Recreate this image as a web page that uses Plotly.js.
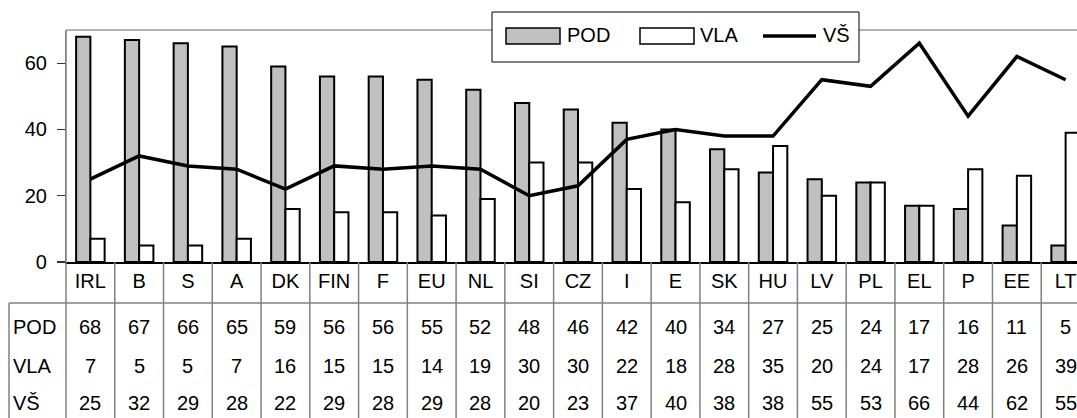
<!DOCTYPE html>
<html>
<head>
<meta charset="utf-8">
<script src="https://cdn.plot.ly/plotly-3.0.1.min.js"></script>
<style>html,body{margin:0;padding:0;overflow:hidden;background:#fff;}</style>
</head>
<body>
<div id="chart"></div>
<script>
const categories = ["IRL","B","S","A","DK","FIN","F","EU","NL","SI","CZ","I","E","SK","HU","LV","PL","EL","P","EE","LT"];
const podValues = [68,67,66,65,59,56,56,55,52,48,46,42,40,34,27,25,24,17,16,11,5];
const vlaValues = [7,5,5,7,16,15,15,14,19,30,30,22,18,28,35,20,24,17,28,26,39];
const vsValues  = [25,32,29,28,22,29,28,29,28,20,23,37,40,38,38,55,53,66,44,62,55];
const seriesNames = ["POD","VLA","VŠ"];
const yTicks = [0,20,40,60];

const FONT = "Liberation Sans, Arial, sans-serif";
const W = 1100, H = 418;
const ML = 66, MR = 10, MT = 30, MB = 156;
const PW = W - ML - MR, PH = H - MT - MB;
const px = x => (x - ML) / PW;          // pixel -> paper x
const py = y => (H - MB - y) / PH;      // pixel -> paper y

const traces = [
  {type:"bar", name:seriesNames[0], x:categories, y:podValues, showlegend:false,
   marker:{color:"#c0c0c0", line:{color:"#000", width:2}}, hoverinfo:"x+y"},
  {type:"bar", name:seriesNames[1], x:categories, y:vlaValues, showlegend:false,
   marker:{color:"#ffffff", line:{color:"#000", width:2}}, hoverinfo:"x+y"},
  {type:"scatter", mode:"lines", name:seriesNames[2], x:categories, y:vsValues, showlegend:false,
   line:{color:"#000", width:3.5}, hoverinfo:"x+y"}
];

const shapes = [];
const annotations = [];
const GRAY = "#808080";

// top border
shapes.push({type:"line", xref:"paper", yref:"paper", x0:0, x1:1, y0:1, y1:1, line:{color:"#999", width:1.5}});
// vertical dividers (table + category separators)
for (let i = 0; i <= categories.length; i++) {
  shapes.push({type:"line", xref:"paper", yref:"paper", x0:i/categories.length, x1:i/categories.length,
    y0: i === 0 ? 1 : 0, y1: py(H), line:{color:GRAY, width:1.5}});
}
// table horizontal line and left border
shapes.push({type:"line", xref:"paper", yref:"paper", x0:px(9), x1:1, y0:py(303), y1:py(303), line:{color:GRAY, width:1.5}});
shapes.push({type:"line", xref:"paper", yref:"paper", x0:px(9), x1:px(9), y0:py(303), y1:py(H), line:{color:GRAY, width:1.5}});

// table cells
const rows = [podValues, vlaValues, vsValues];
const rowY = [327, 366, 403];
rows.forEach((vals, r) => {
  annotations.push({xref:"paper", yref:"paper", x:px(11), y:py(rowY[r]), xanchor:"left", yanchor:"middle",
    text:seriesNames[r], showarrow:false, font:{family:FONT, size:20, color:"#000"}});
  vals.forEach((v, i) => {
    annotations.push({xref:"x", yref:"paper", x:categories[i], y:py(rowY[r]), xanchor:"center", yanchor:"middle",
      text:String(v), showarrow:false, font:{family:FONT, size:20, color:"#000"}});
  });
});

// legend (custom)
shapes.push({type:"rect", xref:"paper", yref:"paper", x0:px(492), x1:px(859), y0:py(62), y1:py(12),
  fillcolor:"#fff", line:{color:"#000", width:1}});
shapes.push({type:"rect", xref:"paper", yref:"paper", x0:px(506), x1:px(560), y0:py(44), y1:py(28),
  fillcolor:"#c0c0c0", line:{color:"#000", width:1.5}});
shapes.push({type:"rect", xref:"paper", yref:"paper", x0:px(640), x1:px(694), y0:py(44), y1:py(28),
  fillcolor:"#fff", line:{color:"#000", width:1.5}});
shapes.push({type:"line", xref:"paper", yref:"paper", x0:px(763), x1:px(816), y0:py(36), y1:py(36),
  line:{color:"#000", width:3.5}});
[[seriesNames[0],565],[seriesNames[1],698],[seriesNames[2],821]].forEach(([t,x]) => {
  annotations.push({xref:"paper", yref:"paper", x:px(x), y:py(35), xanchor:"left", yanchor:"middle",
    text:t, showarrow:false, font:{family:FONT, size:20, color:"#000"}});
});

const layout = {
  width:W, height:H,
  margin:{l:ML, r:MR, t:MT, b:MB, pad:0},
  paper_bgcolor:"#fff", plot_bgcolor:"#fff",
  font:{family:FONT, size:20, color:"#000"},
  barmode:"group", bargap:0.415, bargroupgap:0,
  showlegend:false,
  xaxis:{type:"category", range:[-0.5, categories.length-0.5], showgrid:false, zeroline:false,
    showline:true, linecolor:"#000", linewidth:1.5, ticks:"", tickfont:{family:FONT, size:20, color:"#000"},
    fixedrange:true},
  yaxis:{range:[0,70], tickvals:yTicks, ticktext:yTicks.map(v => v + "\u00a0"), showgrid:false, zeroline:false,
    showline:true, linecolor:GRAY, linewidth:1.5, ticks:"outside", ticklen:8, tickwidth:1.2, tickcolor:"#333",
    tickfont:{family:FONT, size:20, color:"#000"}, fixedrange:true},
  shapes:shapes,
  annotations:annotations
};

Plotly.newPlot("chart", traces, layout, {staticPlot:true, displayModeBar:false});
</script>
</body>
</html>
